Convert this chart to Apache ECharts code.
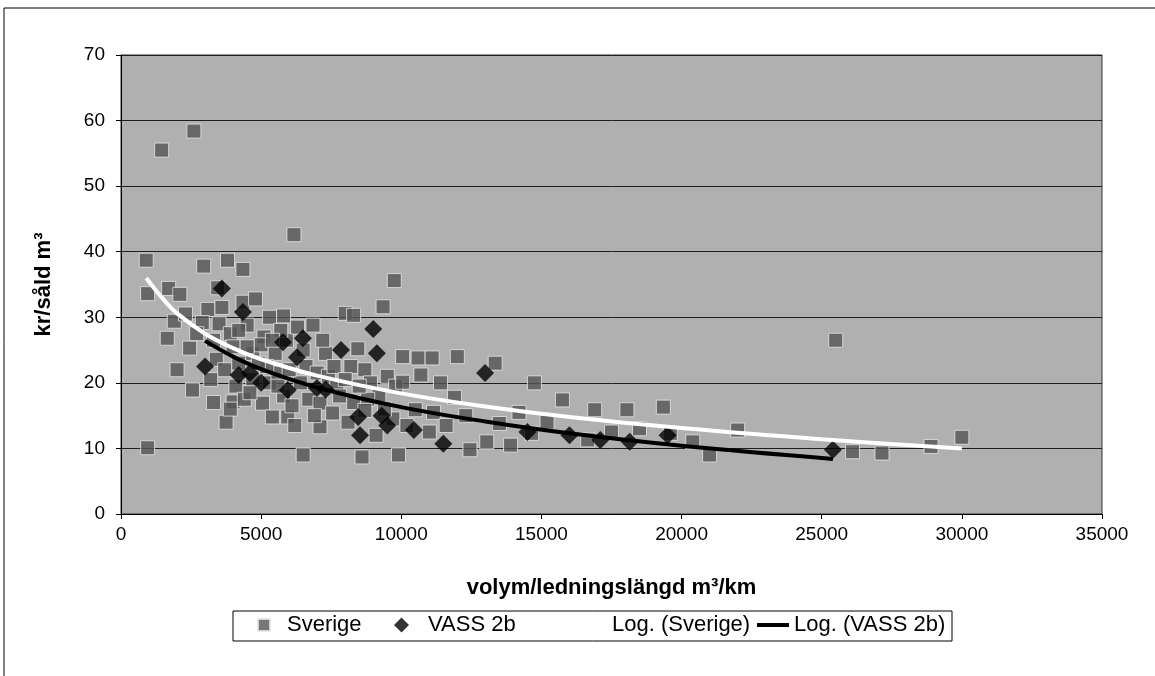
<!DOCTYPE html>
<html>
<head>
<meta charset="utf-8">
<title>kr/såld m3</title>
<script src="https://cdn.jsdelivr.net/npm/echarts@6/dist/echarts.min.js"></script>
<style>
  html, body { margin: 0; padding: 0; background: #fff; }
  #main { width: 1155px; height: 676px; }
</style>
</head>
<body>
<div id="main"></div>
<script>
// Sverige: [volym/ledningslängd, kr/såld m3]
const sverige = [
  [900, 38.7], [1450, 55.5], [2600, 58.4], [950, 33.6], [950, 10.1], [1700, 34.4],
  [2100, 33.5], [1900, 29.4], [1650, 26.8], [2000, 22.0], [2450, 25.3], [2550, 18.9],
  [2950, 37.8], [3100, 31.2], [3450, 34.5], [3800, 38.7], [4350, 37.3], [4350, 32.3],
  [4800, 32.8], [2900, 29.2], [3500, 29.0], [3300, 26.5], [3900, 27.5], [4500, 28.8],
  [5300, 30.0], [5800, 30.2], [5100, 27.0], [3400, 23.6], [3700, 22.0], [4000, 25.5],
  [4200, 23.0], [4700, 24.5], [5000, 25.8], [5500, 24.5], [5900, 26.5], [4100, 19.5],
  [4000, 17.1], [3750, 14.0], [3900, 16.0], [4400, 17.5], [4700, 20.5], [5050, 16.9],
  [5400, 14.8], [5950, 14.8], [5300, 20.0], [5600, 21.5], [5800, 18.0], [6100, 16.5],
  [6200, 13.5], [6170, 42.6], [6850, 28.8], [6600, 22.5], [7000, 21.5], [6700, 17.5],
  [7100, 16.9], [7100, 13.3], [7550, 15.4], [6500, 9.0], [7400, 21.0], [7700, 19.5],
  [8000, 30.6], [8300, 30.3], [9350, 31.6], [9750, 35.6], [8450, 25.2], [8200, 22.5],
  [8700, 22.0], [8900, 20.0], [9200, 18.0], [8300, 17.0], [8800, 17.5], [9500, 21.0],
  [9800, 19.5], [9700, 14.5], [9100, 12.0], [8600, 8.7], [9900, 9.0], [10050, 24.0],
  [10600, 23.8], [10700, 21.2], [10050, 20.1], [11400, 20.0], [11100, 23.8], [12000, 24.0],
  [13350, 23.0], [10500, 15.9], [11150, 15.5], [11900, 17.8], [12450, 9.8], [13050, 11.0],
  [13900, 10.5], [14650, 12.3], [14750, 20.0], [15750, 17.4], [16900, 15.9], [18050, 15.9],
  [19350, 16.3], [16650, 11.3], [19600, 12.3], [20400, 11.0], [21000, 9.0], [22000, 12.8],
  [25500, 26.5], [26100, 9.5], [27150, 9.3], [28900, 10.3], [30000, 11.7], [3200, 20.5],
  [2700, 27.5], [2300, 30.5], [5200, 22.5], [6400, 20.0], [7800, 18.0], [8100, 14.0],
  [9400, 16.0], [10200, 13.5], [11000, 12.5], [11600, 13.5], [12300, 15.0], [13500, 13.8],
  [14200, 15.5], [15200, 14.0], [17500, 12.5], [18500, 13.0], [7300, 24.5], [6500, 25.0],
  [5700, 28.0], [4500, 25.5], [4900, 23.0], [5400, 26.5], [6000, 22.0], [6300, 28.5],
  [7200, 26.5], [7600, 22.5], [8000, 20.5], [8500, 19.5], [4200, 28.0], [3600, 31.5],
  [4600, 18.5], [5600, 19.5], [6900, 15.0], [8700, 15.8], [3300, 17.0]
];

// VASS 2b
const vass = [
  [3600, 34.4], [4350, 30.8], [4200, 21.2], [4600, 21.5], [5780, 26.2], [6490, 26.8],
  [6280, 23.9], [5950, 18.9], [6990, 19.2], [7300, 19.0], [7850, 25.0], [9000, 28.2],
  [9130, 24.5], [8460, 14.8], [8530, 12.0], [9300, 15.0], [10450, 12.8], [11500, 10.7],
  [12990, 21.5], [14500, 12.5], [16000, 12.0], [17100, 11.3], [18150, 11.0], [19500, 12.0],
  [25400, 9.8], [9500, 13.5], [3000, 22.5], [5000, 20.0]
];

// trendlines
const logSverigeX = [900, 1500, 2000, 3000, 4000, 5000, 7000, 10000, 13000, 16000, 20000, 25000, 30000];
const logSverigeY = [36.0, 32.8, 30.6, 27.5, 25.3, 23.6, 21.1, 18.4, 16.4, 14.8, 13.1, 11.4, 10.0];
const logVassX = [3000, 4000, 5000, 7000, 10000, 13000, 16000, 20000, 25400];
const logVassY = [26.4, 24.0, 22.1, 19.3, 16.3, 14.1, 12.3, 10.4, 8.4];

const yTicks = [0, 10, 20, 30, 40, 50, 60, 70];
const xTicks = [0, 5000, 10000, 15000, 20000, 25000, 30000, 35000];

const font = 'Liberation Sans, Arial, sans-serif';
const lineIcon = 'path://M0,0 L32,0 L32,4 L0,4 Z';

// one legend block per entry, so each icon can keep its own size
function legendItem(left, name, icon, w, h, color, textPad) {
  return {
    left: left, top: 614,
    padding: 0,
    itemWidth: w, itemHeight: h,
    textStyle: { fontSize: 22, fontFamily: font, color: '#000', padding: [0, 0, 0, textPad] },
    data: [{ name: name, icon: icon, itemStyle: { color: color } }]
  };
}

const chart = echarts.init(document.getElementById('main'));

chart.setOption({
  backgroundColor: '#fff',
  animation: false,
  textStyle: { fontFamily: font, color: '#000' },
  graphic: [
    {
      type: 'rect',
      shape: { x: 4, y: 8, width: 1170, height: 700 },
      style: { fill: 'none', stroke: '#000', lineWidth: 1 },
      silent: true
    },
    {
      // legend frame
      type: 'rect',
      shape: { x: 233, y: 611, width: 719, height: 30 },
      style: { fill: '#fff', stroke: '#000', lineWidth: 1 },
      silent: true,
      z: -1
    }
  ],
  grid: {
    left: 121, right: 53, top: 55, bottom: 162,
    show: true,
    backgroundColor: '#b0b0b0',
    borderColor: '#333',
    borderWidth: 1
  },
  legend: [
    legendItem(257, 'Sverige', 'rect', 12, 12, '#555', 12),
    legendItem(394, 'VASS 2b', 'diamond', 15, 15, '#000', 14),
    legendItem(575, 'Log. (Sverige)', lineIcon, 32, 4, '#fff', 0),
    legendItem(757, 'Log. (VASS 2b)', lineIcon, 32, 4, '#000', 0)
  ],
  xAxis: {
    type: 'value',
    min: xTicks[0], max: xTicks[xTicks.length - 1], interval: 5000,
    name: 'volym/ledningslängd m³/km',
    nameLocation: 'middle',
    nameGap: 63,
    nameTextStyle: { fontSize: 22, fontWeight: 'bold', color: '#000' },
    axisLine: { show: true, lineStyle: { color: '#000', width: 1 } },
    axisTick: { show: true, length: 5, lineStyle: { color: '#000' } },
    axisLabel: { fontSize: 19, color: '#000', margin: 11, formatter: v => String(v) },
    splitLine: { show: false }
  },
  yAxis: {
    type: 'value',
    min: yTicks[0], max: yTicks[yTicks.length - 1], interval: 10,
    name: 'kr/såld m³',
    nameLocation: 'middle',
    nameGap: 66,
    nameRotate: 90,
    nameTextStyle: { fontSize: 22, fontWeight: 'bold', color: '#000' },
    axisLine: { show: true, lineStyle: { color: '#000', width: 1 } },
    axisTick: { show: true, length: 5, lineStyle: { color: '#000' } },
    axisLabel: { fontSize: 19, color: '#000', margin: 16 },
    splitLine: { show: true, lineStyle: { color: '#1e1e1e', width: 1 } }
  },
  series: [
    {
      name: 'Sverige',
      type: 'scatter',
      symbol: 'rect',
      symbolSize: 14,
      itemStyle: { color: '#555', borderColor: '#e6e6e6', borderWidth: 1 },
      data: sverige,
      z: 2
    },
    {
      name: 'VASS 2b',
      type: 'scatter',
      symbol: 'diamond',
      symbolSize: 18,
      itemStyle: { color: '#000' },
      data: vass,
      z: 3
    },
    {
      name: 'Log. (Sverige)',
      type: 'line',
      smooth: 0.4,
      showSymbol: false,
      symbol: 'none',
      lineStyle: { color: '#fff', width: 4 },
      itemStyle: { color: '#fff' },
      data: logSverigeX.map((x, i) => [x, logSverigeY[i]]),
      z: 5
    },
    {
      name: 'Log. (VASS 2b)',
      type: 'line',
      smooth: 0.4,
      showSymbol: false,
      symbol: 'none',
      lineStyle: { color: '#000', width: 4 },
      itemStyle: { color: '#000' },
      data: logVassX.map((x, i) => [x, logVassY[i]]),
      z: 4
    }
  ]
});
</script>
</body>
</html>
